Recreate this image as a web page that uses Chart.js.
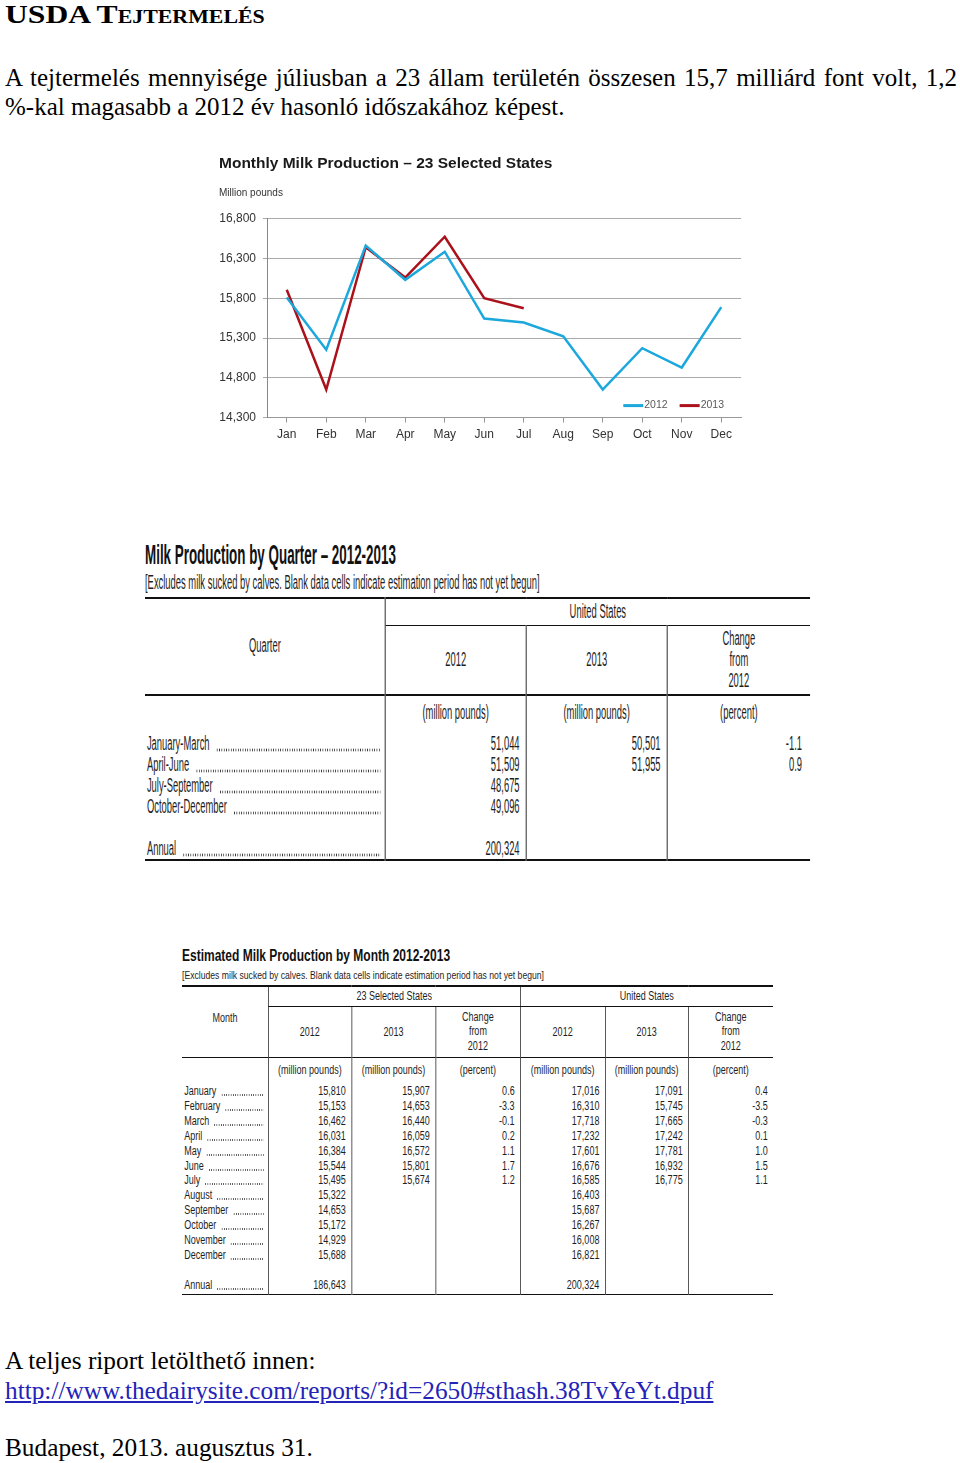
<!DOCTYPE html>
<html lang="hu">
<head>
<meta charset="utf-8">
<title>USDA Tejtermelés</title>
<script src="https://cdn.jsdelivr.net/npm/chart.js@4.4.0/dist/chart.umd.min.js"></script>
<style>
  html, body { margin:0; padding:0; background:#fff; }
  body { width:960px; height:1463px; position:relative; overflow:hidden;
         font-family:"Liberation Serif","Times New Roman",serif; color:#000; }
  .abs { position:absolute; }
  #heading { left:5px; top:0; font-size:26px; font-weight:bold; font-variant:small-caps; line-height:30px;
             transform:scaleX(1.215); transform-origin:0 0; white-space:nowrap; }
  #intro { left:5px; top:63px; width:952px; font-size:25px; line-height:29px; }
  #intro .l1 { text-align:justify; text-align-last:justify; white-space:nowrap; }
  #outro { left:5px; top:1345px; font-size:25.3px; line-height:30px; }
  #outro a { color:#2323b8; text-decoration:underline; }
  #outro .date { margin-top:27px; }

  #chartBox { left:215px; top:148px; width:534px; height:299px; }

  /* tables: laid out wide, then squeezed horizontally like the scan */
  .tw { position:absolute; transform-origin:0 0; font-family:"Liberation Sans",Arial,sans-serif; color:#1e1e1e; }
  .tw table { position:absolute; left:0; border-collapse:collapse; table-layout:fixed; }
  .tw th, .tw td { padding:0; font-weight:normal; white-space:nowrap; }
  .lead { display:flex; align-items:stretch; }
  .lead .dots { flex:1; background-repeat:repeat-x; }

  #qWrap { left:145px; top:540px; width:1415px; transform:scaleX(0.47); }
  #qWrap .title { font-size:28.5px; font-weight:bold; line-height:28px; color:#111; }
  #qWrap .sub { font-size:20px; line-height:20px; margin-top:4px; }
  #qTable { top:57px; width:1415px; font-size:20px; line-height:21px; border-top:2px solid #111; border-bottom:2px solid #111; }
  #qTable .vl { border-left:2px solid #222; }
  #qTable .num { text-align:right; padding-right:13px; }
  #qTable .pct { text-align:right; padding-right:17px; }
  #qTable .lab { padding-left:4px; padding-right:9px; }
  #qTable .dots { margin-left:14px; background-image:radial-gradient(circle, #333 1.3px, transparent 1.6px);
                  background-size:5px 4px; background-position:0 15px; }

  #mWrap { left:182px; top:947px; width:788px; transform:scaleX(0.75); }
  #mWrap .title { font-size:16px; font-weight:bold; line-height:18px; color:#111; }
  #mWrap .sub { font-size:11.5px; line-height:14px; margin-top:3px; }
  #mTable { top:38px; width:788px; font-size:12px; line-height:14px; border-top:2px solid #111; border-bottom:1.5px solid #111; }
  #mTable .vl { border-left:1.5px solid #222; }
  #mTable .num { text-align:right; padding-right:7px; }
  #mTable .lab { padding-left:3px; padding-right:6px; }
  #mTable .dots { margin-left:6px; background-image:radial-gradient(circle, #444 0.7px, transparent 0.9px);
                  background-size:3px 2px; background-position:0 10px; }
</style>
</head>
<body>

<div id="heading" class="abs">USDA Tejtermelés</div>
<div id="intro" class="abs">
  <div class="l1">A tejtermelés mennyisége júliusban a 23 állam területén összesen 15,7 milliárd font volt, 1,2</div>
  <div>%-kal magasabb a 2012 év hasonló időszakához képest.</div>
</div>

<div id="chartBox" class="abs"><canvas id="milkChart"></canvas></div>

<div id="qWrap" class="tw">
  <div class="title">Milk Production by Quarter – 2012-2013</div>
  <div class="sub">[Excludes milk sucked by calves. Blank data cells indicate estimation period has not yet begun]</div>
  <table id="qTable">
    <colgroup><col style="width:511px"><col style="width:300px"><col style="width:300px"><col style="width:304px"></colgroup>
    <thead>
      <tr style="height:27px">
        <th rowspan="2" style="vertical-align:top;padding-top:36px">Quarter</th>
        <th colspan="3" class="vl" style="border-bottom:1.5px solid #111">United States</th>
      </tr>
      <tr style="height:70px">
        <th class="vl">2012</th>
        <th class="vl">2013</th>
        <th class="vl">Change<br>from<br>2012</th>
      </tr>
    </thead>
    <tbody id="qBody" style="border-top:2px solid #111"></tbody>
  </table>
</div>

<div id="mWrap" class="tw">
  <div class="title">Estimated Milk Production by Month 2012-2013</div>
  <div class="sub">[Excludes milk sucked by calves. Blank data cells indicate estimation period has not yet begun]</div>
  <table id="mTable">
    <colgroup>
      <col style="width:115px"><col style="width:111px"><col style="width:112px"><col style="width:113px">
      <col style="width:113px"><col style="width:111px"><col style="width:113px">
    </colgroup>
    <thead>
      <tr style="height:20px">
        <th rowspan="2" style="vertical-align:top;padding-top:24px">Month</th>
        <th colspan="3" class="vl" style="border-bottom:1px solid #111">23 Selected States</th>
        <th colspan="3" class="vl" style="border-bottom:1px solid #111">United States</th>
      </tr>
      <tr style="height:51px">
        <th class="vl">2012</th><th class="vl">2013</th><th class="vl" style="line-height:14.5px">Change<br>from<br>2012</th>
        <th class="vl">2012</th><th class="vl">2013</th><th class="vl" style="line-height:14.5px">Change<br>from<br>2012</th>
      </tr>
    </thead>
    <tbody id="mBody" style="border-top:1.5px solid #111"></tbody>
  </table>
</div>

<div id="outro" class="abs">
  <div>A teljes riport letölthető innen:</div>
  <div><a href="#">http://www.thedairysite.com/reports/?id=2650#sthash.38TvYeYt.dpuf</a></div>
  <div class="date">Budapest, 2013. augusztus 31.</div>
</div>

<script>
(function(){
  // ---- chart data (23 selected states, million pounds)
  const months = ["Jan","Feb","Mar","Apr","May","Jun","Jul","Aug","Sep","Oct","Nov","Dec"];
  const states2012 = [15810,15153,16462,16031,16384,15544,15495,15322,14653,15172,14929,15688];
  const states2013 = [15907,14653,16440,16059,16572,15801,15674];
  const yMin = 14300, yMax = 16800, yStep = 500;

  // ---- quarter table
  const quarterNames = ["January-March","April-June","July-September","October-December"];
  const quarter2012 = [51044,51509,48675,49096];
  const quarter2013 = [50501,51955];
  const quarterChange = [-1.1,0.9];
  const quarterAnnual2012 = 200324;

  // ---- month table
  const monthNames = ["January","February","March","April","May","June","July","August","September","October","November","December"];
  const sel2012 = states2012;
  const sel2013 = states2013;
  const selChange = [0.6,-3.3,-0.1,0.2,1.1,1.7,1.2];
  const us2012 = [17016,16310,17718,17232,17601,16676,16585,16403,15687,16267,16008,16821];
  const us2013 = [17091,15745,17665,17242,17781,16932,16775];
  const usChange = [0.4,-3.5,-0.3,0.1,1.0,1.5,1.1];
  const selAnnual2012 = 186643;
  const usAnnual2012 = 200324;

  const colour2012 = "#1ca8dc";
  const colour2013 = "#aa111b";

  const fmt = v => v == null ? "" : v.toLocaleString("en-US");
  const pct = v => v == null ? "" : v.toFixed(1);

  // small helper: one cell
  function cell(tr, text, cls){
    const td = document.createElement("td");
    if (cls) td.className = cls;
    td.textContent = text;
    tr.appendChild(td);
    return td;
  }
  // label + dot leader (leader is a background pattern, not text)
  function labelCell(tr, text){
    const td = document.createElement("td");
    td.className = "lab";
    td.innerHTML = '<div class="lead"><span></span><span class="dots"></span></div>';
    td.querySelector("span").textContent = text;
    tr.appendChild(td);
  }
  function row(body, h){
    const tr = document.createElement("tr");
    tr.style.height = h + "px";
    body.appendChild(tr);
    return tr;
  }

  // quarter table body
  function buildQuarterTable(){
    const body = document.getElementById("qBody");
    let tr = row(body, 38);
    cell(tr, "");
    ["(million pounds)","(million pounds)","(percent)"].forEach(t => {
      const td = cell(tr, t, "vl");
      td.style.textAlign = "center"; td.style.verticalAlign = "top"; td.style.paddingTop = "6px";
    });
    quarterNames.forEach((q, i) => {
      tr = row(body, 20.7);
      labelCell(tr, q);
      cell(tr, fmt(quarter2012[i]), "vl num");
      cell(tr, fmt(quarter2013[i]), "vl num");
      cell(tr, pct(quarterChange[i]), "vl pct");
    });
    tr = row(body, 21);
    cell(tr, ""); cell(tr, "", "vl"); cell(tr, "", "vl"); cell(tr, "", "vl");
    tr = row(body, 21);
    labelCell(tr, "Annual");
    cell(tr, fmt(quarterAnnual2012), "vl num");
    cell(tr, "", "vl"); cell(tr, "", "vl");
  }

  // month table body
  function buildMonthTable(){
    const body = document.getElementById("mBody");
    let tr = row(body, 27);
    cell(tr, "");
    ["(million pounds)","(million pounds)","(percent)","(million pounds)","(million pounds)","(percent)"].forEach(t => {
      const td = cell(tr, t, "vl");
      td.style.textAlign = "center"; td.style.verticalAlign = "top"; td.style.paddingTop = "5px";
    });
    monthNames.forEach((m, i) => {
      tr = row(body, 14.83);
      labelCell(tr, m);
      cell(tr, fmt(sel2012[i]), "vl num");
      cell(tr, fmt(sel2013[i]), "vl num");
      cell(tr, pct(selChange[i]), "vl num");
      cell(tr, fmt(us2012[i]), "vl num");
      cell(tr, fmt(us2013[i]), "vl num");
      cell(tr, pct(usChange[i]), "vl num");
    });
    tr = row(body, 14.4);
    cell(tr, ""); for (let k = 0; k < 6; k++) cell(tr, "", "vl");
    tr = row(body, 18);
    labelCell(tr, "Annual");
    cell(tr, fmt(selAnnual2012), "vl num");
    cell(tr, "", "vl"); cell(tr, "", "vl");
    cell(tr, fmt(usAnnual2012), "vl num");
    cell(tr, "", "vl"); cell(tr, "", "vl");
  }

  // legend drawn inside the plot, bottom right, like the source graphic
  const insideLegend = {
    id: "insideLegend",
    afterDatasetsDraw(chart){
      const {ctx, chartArea} = chart;
      const y = chartArea.bottom - 12;
      let x = chartArea.right - 17;
      ctx.save();
      ctx.font = '10.5px "Liberation Sans", Arial, sans-serif';
      ctx.textBaseline = "middle";
      const items = chart.data.datasets;
      for (let i = items.length - 1; i >= 0; i--) {
        const w = ctx.measureText(items[i].label).width;
        x -= w;
        ctx.fillStyle = "#5a5a5a";
        ctx.fillText(items[i].label, x, y);
        x -= 1;
        ctx.strokeStyle = items[i].borderColor;
        ctx.lineWidth = 3;
        ctx.beginPath(); ctx.moveTo(x - 20, y); ctx.lineTo(x, y); ctx.stroke();
        x -= 32;
      }
      ctx.restore();
    }
  };

  function buildChart(){
    Chart.defaults.font.family = '"Liberation Sans", Arial, sans-serif';
    Chart.defaults.color = "#333";
    new Chart(document.getElementById("milkChart"), {
      type: "line",
      data: {
        labels: months,
        datasets: [
          { label: "2012", data: states2012, borderColor: colour2012, borderWidth: 2.5, pointRadius: 0, tension: 0 },
          { label: "2013", data: states2013, borderColor: colour2013, borderWidth: 2.5, pointRadius: 0, tension: 0 }
        ]
      },
      options: {
        responsive: true, maintainAspectRatio: false, animation: false,
        layout: { padding: { left: 4, right: 8, top: 0, bottom: 0 } },
        plugins: {
          legend: { display: false },
          tooltip: { enabled: false },
          title: { display: true, text: "Monthly Milk Production – 23 Selected States", align: "start",
                   color: "#1a1a1a", font: { size: 15.5, weight: "bold" }, padding: { top: 6, bottom: 8 } },
          subtitle: { display: true, text: "Million pounds", align: "start",
                      color: "#333", font: { size: 10 }, padding: { top: 7, bottom: 19 } }
        },
        scales: {
          x: {
            offset: true,
            grid: { display: true, drawOnChartArea: false, drawTicks: true, tickLength: 5, color: "#999" },
            border: { display: true, color: "#999" },
            ticks: { color: "#333", font: { size: 12 }, padding: 5, maxRotation: 0 }
          },
          y: {
            min: yMin, max: yMax,
            afterFit: scale => { scale.width = 48; },
            grid: { color: "#aaaaaa", tickLength: 4, drawTicks: true },
            border: { display: true, color: "#888" },
            ticks: { stepSize: yStep, color: "#333", font: { size: 12 }, padding: 7,
                     callback: v => v.toLocaleString("en-US") }
          }
        }
      },
      plugins: [insideLegend]
    });
  }

  function init(){
    buildQuarterTable();
    buildMonthTable();
    buildChart();
  }
  if (document.readyState === "loading") document.addEventListener("DOMContentLoaded", init);
  else init();
})();
</script>
</body>
</html>
